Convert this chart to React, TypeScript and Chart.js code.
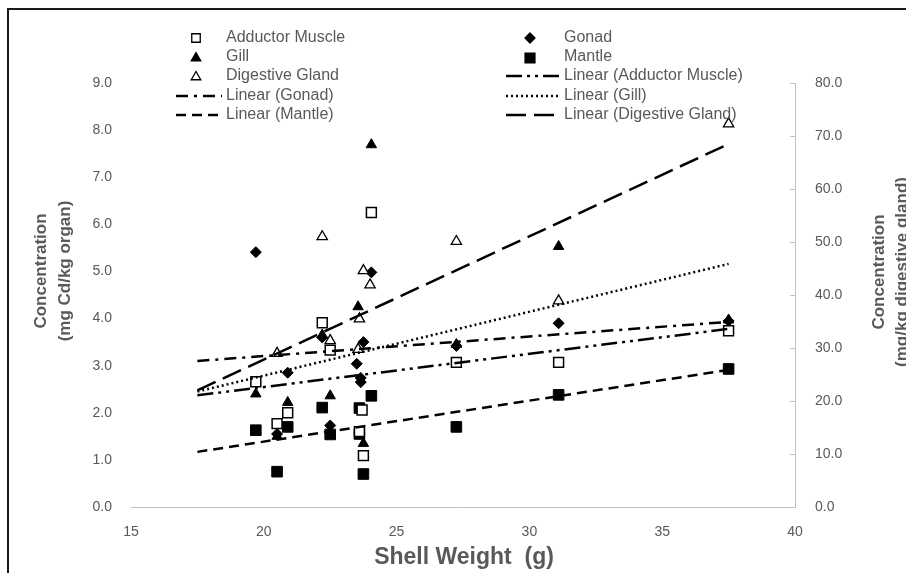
import React, { useEffect, useRef } from 'react';
import { Chart, registerables } from 'chart.js';

Chart.register(...registerables);

// ---- data ----
const amX = [19.7, 20.5, 20.9, 22.2, 22.5, 23.6, 23.7, 23.75, 24.05, 27.25, 31.1, 37.5];
const amY = [2.66, 1.77, 2.0, 3.91, 3.33, 1.6, 2.06, 1.09, 6.25, 3.07, 3.07, 3.74];

const gillX = [19.7, 20.5, 20.9, 22.2, 22.5, 23.55, 23.75, 24.05, 27.25, 31.1, 37.5];
const gillY = [2.4, 1.5, 2.22, 3.65, 2.36, 4.25, 1.35, 7.69, 3.45, 5.53, 3.97];

const gonadX = [19.7, 20.5, 20.9, 22.2, 22.5, 23.5, 23.65, 23.65, 23.75, 24.05, 27.25, 31.1, 37.5];
const gonadY = [5.41, 1.55, 2.85, 3.6, 1.73, 3.04, 2.74, 2.65, 3.5, 4.98, 3.42, 3.9, 3.95];

const mantleX = [19.7, 20.5, 20.9, 22.2, 22.5, 23.6, 23.6, 23.75, 24.05, 27.25, 31.1, 37.5];
const mantleY = [1.63, 0.75, 1.7, 2.11, 1.54, 2.1, 1.55, 0.7, 2.36, 1.7, 2.38, 2.93];

// digestive gland on the secondary (right) axis
const dgX = [20.5, 22.2, 22.5, 23.55, 23.6, 23.75, 24.0, 27.25, 31.1, 37.5];
const dgY = [29.0, 51.0, 31.4, 29.75, 35.5, 44.6, 41.9, 50.1, 38.9, 72.3];

// linear trend lines (end points)
const trendX = [17.5, 37.5];
const amTrend = [2.37, 3.78];
const gonadTrend = [3.1, 3.93];
const gillTrend = [2.45, 5.16];
const mantleTrend = [1.17, 2.91];
const dgTrend = [22.0, 68.5];

const xTicksStep = 5;
const xTitle = 'Shell Weight  (g)';
const leftTitle = ['Concentration', '(mg Cd/kg organ)'];
const rightTitle = ['Concentration', '(mg/kg digestive gland)'];

const legendCol1 = ['Adductor Muscle', 'Gill', 'Digestive Gland', 'Linear (Gonad)', 'Linear (Mantle)'];
const legendCol2 = ['Gonad', 'Mantle', 'Linear (Adductor Muscle)', 'Linear (Gill)', 'Linear (Digestive Gland)'];

const GRAY = '#595959';
const AXIS = '#bfbfbf';

const zip = (xs: number[], ys: number[]) => xs.map((x, i) => ({ x, y: ys[i] }));

const DASH_AM = [16, 5, 3, 5, 3, 5];
const DASH_GONAD = [12, 6, 3, 6];
const DASH_GILL = [2, 3];
const DASH_MANTLE = [10, 6];
const DASH_DG = [20, 8];

function drawMarker(ctx: CanvasRenderingContext2D, style: string, x: number, y: number, r: number, filled: boolean) {
  ctx.save();
  ctx.beginPath();
  if (style === 'rect') {
    const s = r * Math.SQRT1_2;
    ctx.rect(x - s, y - s, 2 * s, 2 * s);
  } else if (style === 'triangle') {
    ctx.moveTo(x, y - r);
    ctx.lineTo(x + r * 0.866, y + r * 0.5);
    ctx.lineTo(x - r * 0.866, y + r * 0.5);
    ctx.closePath();
  } else {
    ctx.moveTo(x, y - r);
    ctx.lineTo(x + r, y);
    ctx.lineTo(x, y + r);
    ctx.lineTo(x - r, y);
    ctx.closePath();
  }
  ctx.fillStyle = filled ? '#000' : '#fff';
  ctx.fill();
  ctx.strokeStyle = '#000';
  ctx.lineWidth = 1.3;
  ctx.stroke();
  ctx.restore();
}

function drawSample(ctx: CanvasRenderingContext2D, x0: number, x1: number, y: number, dash: number[]) {
  ctx.save();
  ctx.strokeStyle = '#000';
  ctx.lineWidth = 2.5;
  ctx.setLineDash(dash);
  ctx.beginPath();
  ctx.moveTo(x0, y);
  ctx.lineTo(x1, y);
  ctx.stroke();
  ctx.restore();
}

function rotText(ctx: CanvasRenderingContext2D, t: string, x: number, y: number) {
  ctx.save();
  ctx.translate(x, y);
  ctx.rotate(-Math.PI / 2);
  ctx.fillText(t, 0, 0);
  ctx.restore();
}

const overlayPlugin = {
  id: 'overlay',
  afterDraw(chart: any) {
    const ctx: CanvasRenderingContext2D = chart.ctx;
    ctx.save();
    // inner tick marks of the right axis
    const y2 = chart.scales.y2;
    ctx.strokeStyle = AXIS;
    ctx.lineWidth = 1;
    y2.ticks.forEach((_t: any, i: number) => {
      const py = Math.round(y2.getPixelForTick(i)) + 0.5;
      ctx.beginPath();
      ctx.moveTo(y2.left - 5, py);
      ctx.lineTo(y2.left, py);
      ctx.stroke();
    });

    // axis titles
    ctx.fillStyle = GRAY;
    ctx.textAlign = 'center';
    ctx.textBaseline = 'middle';
    ctx.font = 'bold 17px "Liberation Sans", Arial, sans-serif';
    rotText(ctx, leftTitle[0], 41, 271);
    rotText(ctx, leftTitle[1], 65, 271);
    rotText(ctx, rightTitle[0], 879, 272);
    rotText(ctx, rightTitle[1], 902, 272);
    ctx.font = 'bold 23px "Liberation Sans", Arial, sans-serif';
    ctx.fillText(xTitle, 464, 558);

    // legend
    const rows = [38, 57, 76, 96, 115];
    ctx.font = '16px "Liberation Sans", Arial, sans-serif';
    ctx.textAlign = 'left';
    ctx.fillStyle = GRAY;
    legendCol1.forEach((t, i) => ctx.fillText(t, 226, rows[i]));
    legendCol2.forEach((t, i) => ctx.fillText(t, 564, rows[i]));
    drawMarker(ctx, 'rect', 196, rows[0], 6, false);
    drawMarker(ctx, 'triangle', 196, rows[1] + 1, 5.5, true);
    drawMarker(ctx, 'triangle', 196, rows[2] + 1, 5.5, false);
    drawSample(ctx, 176, 222, rows[3], DASH_GONAD);
    drawSample(ctx, 176, 222, rows[4], DASH_MANTLE);
    drawMarker(ctx, 'diamond', 530, rows[0], 5, true);
    drawMarker(ctx, 'rect', 530, rows[1] + 1, 7, true);
    drawSample(ctx, 506, 559, rows[2], DASH_AM);
    drawSample(ctx, 506, 559, rows[3], DASH_GILL);
    drawSample(ctx, 506, 559, rows[4], DASH_DG);
    ctx.restore();
  },
};

const trend = (label: string, ys: number[], dash: number[], axis = 'y') => ({
  label,
  data: zip(trendX, ys),
  showLine: true,
  borderColor: '#000',
  borderWidth: 2.5,
  borderDash: dash,
  pointRadius: 0,
  fill: false,
  yAxisID: axis,
  order: 0,
});

export default function App() {
  const ref = useRef<HTMLCanvasElement>(null);
  useEffect(() => {
    if (!ref.current) return;
    const tickFont = { family: '"Liberation Sans", Arial, sans-serif', size: 14 };
    const chart = new Chart(ref.current, {
      type: 'scatter',
      data: {
        datasets: [
          trend('Linear (Adductor Muscle)', amTrend, DASH_AM),
          trend('Linear (Gonad)', gonadTrend, DASH_GONAD),
          trend('Linear (Gill)', gillTrend, DASH_GILL),
          trend('Linear (Mantle)', mantleTrend, DASH_MANTLE),
          trend('Linear (Digestive Gland)', dgTrend, DASH_DG, 'y2'),
          {
            label: 'Adductor Muscle', data: zip(amX, amY), pointStyle: 'rect', pointRadius: 7,
            backgroundColor: '#fff', borderColor: '#000', borderWidth: 1.5, yAxisID: 'y', order: 1,
          },
          {
            label: 'Gill', data: zip(gillX, gillY), pointStyle: 'triangle', pointRadius: 6,
            backgroundColor: '#000', borderColor: '#000', borderWidth: 1, yAxisID: 'y', order: 1,
          },
          {
            label: 'Digestive Gland', data: zip(dgX, dgY), pointStyle: 'triangle', pointRadius: 6,
            backgroundColor: '#fff', borderColor: '#000', borderWidth: 1.3, yAxisID: 'y2', order: 1,
          },
          {
            label: 'Gonad', data: zip(gonadX, gonadY), pointStyle: 'rectRot', pointRadius: 5.5,
            backgroundColor: '#000', borderColor: '#000', borderWidth: 1, yAxisID: 'y', order: 1,
          },
          {
            label: 'Mantle', data: zip(mantleX, mantleY), pointStyle: 'rect', pointRadius: 7.5,
            backgroundColor: '#000', borderColor: '#000', borderWidth: 1, yAxisID: 'y', order: 1,
          },
        ] as any,
      },
      options: {
        animation: false,
        responsive: true,
        maintainAspectRatio: false,
        events: [],
        layout: { padding: { left: 8, top: 83, right: 0, bottom: 0 } },
        plugins: { legend: { display: false }, tooltip: { enabled: false }, title: { display: false } },
        scales: {
          x: {
            type: 'linear', min: 15, max: 40,
            ticks: { stepSize: xTicksStep, color: GRAY, font: tickFont, padding: 17 },
            grid: { display: false, drawTicks: false },
            border: { display: true, color: AXIS, width: 1 },
            afterFit: (s: any) => { s.height = 66; },
          },
          y: {
            type: 'linear', position: 'left', min: 0, max: 9,
            ticks: { stepSize: 1, color: GRAY, font: tickFont, padding: 19, callback: (v: any) => Number(v).toFixed(1) },
            grid: { display: false, drawTicks: false },
            border: { display: false },
            afterFit: (s: any) => { s.width = 123; },
          },
          y2: {
            type: 'linear', position: 'right', min: 0, max: 80,
            ticks: { stepSize: 10, color: GRAY, font: tickFont, padding: 20, callback: (v: any) => Number(v).toFixed(1) },
            grid: { display: false, drawTicks: false },
            border: { display: true, color: AXIS, width: 1 },
            afterFit: (s: any) => { s.width = 111; },
          },
        } as any,
      },
      plugins: [overlayPlugin],
    });
    return () => chart.destroy();
  }, []);

  return (
    <>
      <div style={{ position: 'absolute', left: 0, top: 0, width: 906, height: 573, background: '#fff' }}>
        <canvas ref={ref} />
      </div>
      <div
        style={{
          position: 'absolute', left: 7, top: 8, width: 906, height: 573,
          borderTop: '2px solid #1a1a1a', borderLeft: '2px solid #1a1a1a', pointerEvents: 'none',
        }}
      />
    </>
  );
}
